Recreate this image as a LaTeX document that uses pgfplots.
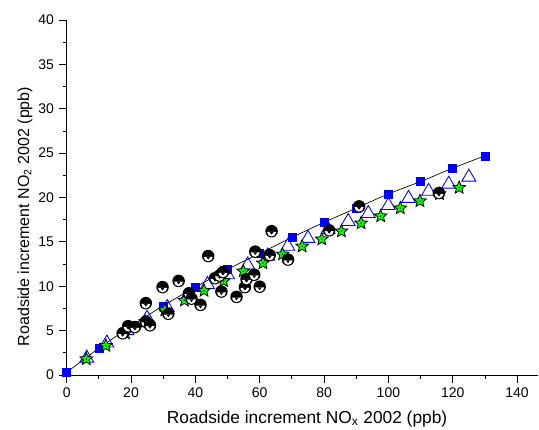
\documentclass[border=0pt]{standalone}
\usepackage{pgfplots}
\pgfplotsset{compat=1.18}
\usepackage{fontspec}
\setmainfont{Liberation Sans}

\definecolor{myblue}{RGB}{0,0,255}
\definecolor{mygreen}{RGB}{0,255,0}

\pgfdeclareplotmark{moon}{%
  \pgfpathcircle{\pgfpointorigin}{\pgfplotmarksize}%
  \pgfsetfillcolor{black}\pgfusepathqfill
  \pgfpathmoveto{\pgfpoint{-0.72\pgfplotmarksize}{-0.12\pgfplotmarksize}}%
  \pgfpatharc{180}{360}{0.72\pgfplotmarksize}%
  \pgfpathclose
  \pgfsetfillcolor{white}\pgfusepathqfill
  \pgfpathmoveto{\pgfpoint{-0.32\pgfplotmarksize}{-0.12\pgfplotmarksize}}%
  \pgfpathlineto{\pgfpoint{0.32\pgfplotmarksize}{-0.12\pgfplotmarksize}}%
  \pgfpathlineto{\pgfpoint{0pt}{-0.55\pgfplotmarksize}}%
  \pgfpathclose
  \pgfsetfillcolor{black}\pgfusepathqfill
}

\pgfdeclareplotmark{gstar}{%
  \pgfsetfillcolor{mygreen}%
  \pgfsetstrokecolor{black}%
  \pgfpathmoveto{\pgfpointpolar{90}{\pgfplotmarksize}}%
  \pgfpathlineto{\pgfpointpolar{126}{0.45\pgfplotmarksize}}%
  \pgfpathlineto{\pgfpointpolar{162}{\pgfplotmarksize}}%
  \pgfpathlineto{\pgfpointpolar{198}{0.45\pgfplotmarksize}}%
  \pgfpathlineto{\pgfpointpolar{234}{\pgfplotmarksize}}%
  \pgfpathlineto{\pgfpointpolar{270}{0.45\pgfplotmarksize}}%
  \pgfpathlineto{\pgfpointpolar{306}{\pgfplotmarksize}}%
  \pgfpathlineto{\pgfpointpolar{342}{0.45\pgfplotmarksize}}%
  \pgfpathlineto{\pgfpointpolar{18}{\pgfplotmarksize}}%
  \pgfpathlineto{\pgfpointpolar{54}{0.45\pgfplotmarksize}}%
  \pgfpathclose
  \pgfusepathqfillstroke
  \pgfpathcircle{\pgfpointorigin}{0.12\pgfplotmarksize}%
  \pgfsetfillcolor{black}\pgfusepathqfill
}

\begin{document}
\begin{tikzpicture}
\begin{axis}[
  name=ax,
  width=353.5pt, height=266.25pt, scale only axis,
  xmin=0, xmax=146.5, ymin=0, ymax=40,
  axis lines=left, axis line style={-, line width=0.6pt},
  tick align=outside,
  xtick={0,20,...,140}, ytick={0,5,...,40},
  minor x tick num=1, minor y tick num=1,
  major tick length=6pt, minor tick length=3pt,
  tick style={black, line width=0.6pt},
  ticklabel style={font=\fontsize{10.5}{12}\selectfont},
  /pgf/number format/assume math mode=true,
  xlabel={Roadside increment NO\textsubscript{x} 2002 (ppb)},
  ylabel={Roadside increment NO\textsubscript{2} 2002 (ppb)},
  xlabel style={font=\fontsize{13}{15}\selectfont, at={(axis description cs:0.51,-0.124)}, anchor=center},
  ylabel style={font=\fontsize{12}{14}\selectfont, at={(axis description cs:-0.0885,0.4465)}, anchor=center},
  clip=false,
]
% fitted line through squares
\addplot[black, line width=0.5pt, smooth, no marks] coordinates {
(0,0.3) (10,3.0) (20,5.5) (30,7.8) (40,9.9) (50,11.9) (60,13.7) (70,15.5)
(80,17.2) (90,18.8) (100,20.4) (110,21.8) (120,23.3) (130,24.7)};
% blue squares
\addplot[only marks, mark=square*, mark size=3pt, mark options={fill=myblue, draw=myblue}] coordinates {
(0,0.3) (10,3.0) (20,5.5) (30,7.8) (40,9.9) (50,11.9) (60,13.7) (70,15.5)
(80,17.2) (90,18.8) (100,20.4) (110,21.8) (120,23.3) (130,24.7)};
% open triangles
\addplot[only marks, mark=triangle, mark size=6pt, mark options={draw=myblue, line width=0.65pt}] coordinates {
(6.25,1.9) (12.5,3.6) (18.75,5.0) (25,6.4) (31.25,7.6) (37.5,8.9) (43.75,10.2)
(50,11.3) (56.25,12.4) (62.5,13.4) (68.75,14.5) (75,15.4) (81.25,16.4)
(87.5,17.3) (93.75,18.2) (100,19.1) (106.25,19.9) (112.5,20.7) (118.75,21.5) (125,22.3)};
% green stars
\addplot[only marks, mark=gstar, mark size=5pt, mark options={line width=0.6pt}] coordinates {
(6.1,1.8) (12.2,3.3) (18.3,4.7) (24.4,6.0) (30.5,7.3) (36.6,8.4) (42.7,9.5)
(48.8,10.6) (54.9,11.7) (61.0,12.6) (67.1,13.6) (73.2,14.5) (79.3,15.3)
(85.4,16.2) (91.5,17.1) (97.6,17.9) (103.7,18.8) (109.8,19.6) (115.9,20.4) (122.0,21.1)};
% black half-moon circles
\addplot[only marks, mark=moon, mark size=4.7pt] coordinates {
(17.4,4.7) (19.1,5.5) (21.2,5.4) (24.6,8.1) (24.6,6.0) (25.9,5.6) (29.8,9.9)
(31.6,6.9) (34.8,10.6) (38.0,9.2) (38.8,8.6) (41.6,7.9) (44.0,13.4) (46.1,10.9)
(47.5,11.2) (48.6,11.6) (48.1,9.4) (52.8,8.8) (55.4,9.9) (55.9,10.8) (58.3,11.3)
(58.6,13.9) (60.0,9.95) (63.1,13.5) (63.7,16.2) (68.8,13.0) (81.6,16.3)
(90.9,19.0) (115.7,20.5)};
\end{axis}
\pgfresetboundingbox
\path ([xshift=-50pt,yshift=-41.25pt]ax.south west) rectangle ([xshift=0.75pt,yshift=15pt]ax.north east);
\end{tikzpicture}
\end{document}
